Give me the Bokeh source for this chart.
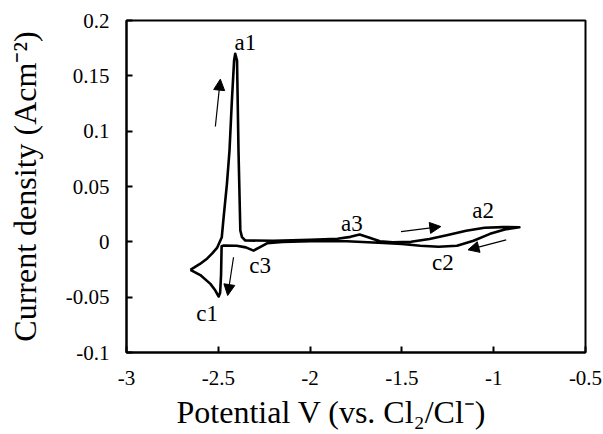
from bokeh.plotting import figure
from bokeh.models import (ColumnDataSource, FixedTicker, CustomJSTickFormatter,
                          Arrow, NormalHead, Range1d, Title)
from bokeh.core.properties import value
from bokeh.embed import file_html
from bokeh.resources import INLINE

# ---------------- data ----------------
# Cyclic voltammogram, traced in scan order starting at the left vertex
potential = [
    -2.652, -2.600, -2.560, -2.533, -2.507, -2.481, -2.471, -2.453, -2.439, -2.426,
    -2.414, -2.408, -2.398, -2.390, -2.380, -2.371, -2.353,
    -2.200, -2.000, -1.850, -1.780, -1.730, -1.680, -1.620, -1.550, -1.450,
    -1.350, -1.250, -1.150, -1.050, -0.950, -0.860,
    -0.930, -1.020, -1.110, -1.200, -1.300, -1.400, -1.500, -1.600, -1.800,
    -2.000, -2.150, -2.235, -2.270, -2.308, -2.350, -2.400, -2.470, -2.482,
    -2.485, -2.490, -2.498, -2.516, -2.543, -2.598, -2.652,
]
current = [
    -0.0253, -0.0200, -0.0150, -0.0105, -0.0055, 0.0042, 0.0222, 0.0524, 0.0825, 0.1277,
    0.1638, 0.1700, 0.1638, 0.0825, 0.0102, 0.0042, 0.0012,
    0.0010, 0.0018, 0.0028, 0.0045, 0.0066, 0.0040, 0.0005, -0.0005, 0.0000,
    0.0025, 0.0062, 0.0100, 0.0127, 0.0133, 0.0132,
    0.0115, 0.0072, 0.0010, -0.0035, -0.0045, -0.0035, -0.0020, -0.0010, 0.0005,
    0.0005, 0.0000, -0.0013, -0.0045, -0.0079, -0.0050, -0.0035, -0.0033, -0.0040,
    -0.0300, -0.0460, -0.0494, -0.0440, -0.0380, -0.0300, -0.0253,
]

x_ticks = [-3, -2.5, -2, -1.5, -1, -0.5]
y_ticks = [-0.1, -0.05, 0, 0.05, 0.1, 0.15, 0.2]

peak_labels = ["a1", "a3", "a2", "c2", "c3", "c1"]
peak_label_x = [-2.353, -1.773, -1.058, -1.277, -2.272, -2.561]
peak_label_y = [0.180, 0.0163, 0.0283, -0.0184, -0.0214, -0.0651]

# scan-direction arrows (tail -> tip)
arrow_x_start = [-2.516, -2.417, -1.505, -0.932]
arrow_y_start = [0.1042, -0.0139, 0.0093, 0.0018]
arrow_x_end = [-2.489, -2.449, -1.288, -1.140]
arrow_y_end = [0.1470, -0.0485, 0.0138, -0.0072]

x_label = "Potential V (vs. Cl\u2082/Cl\u207b)"
y_label = "Current density (Acm\u207b\u00b2)"

# ---------------- figure ----------------
FONT = "Liberation Serif"

p = figure(width=603, height=434, output_backend="svg", toolbar_location=None,
           x_range=Range1d(-3, -0.5), y_range=Range1d(-0.1, 0.2),
           min_border_left=126, min_border_right=18, min_border_top=20,
           min_border_bottom=82)
p.background_fill_color = "white"
p.border_fill_color = "white"
p.outline_line_color = "black"
p.outline_line_width = 2
p.xgrid.visible = False
p.ygrid.visible = False

fmt = CustomJSTickFormatter(code="return tick.toString();")
for ax, ticks in ((p.xaxis[0], x_ticks), (p.yaxis[0], y_ticks)):
    ax.ticker = FixedTicker(ticks=ticks)
    ax.formatter = fmt
    ax.minor_tick_line_color = None
    ax.major_tick_in = 6
    ax.major_tick_out = 0
    ax.major_tick_line_width = 2
    ax.axis_line_width = 2
    ax.major_label_text_font = FONT
    ax.major_label_text_font_size = "21px"
    ax.major_label_text_font_style = "normal"
    ax.major_label_text_color = "black"
    ax.axis_label_text_font = FONT
    ax.axis_label_text_font_style = "normal"
    ax.axis_label_text_color = "black"

p.yaxis.axis_label = y_label
p.yaxis.axis_label_text_font_size = "32px"
p.xaxis.major_label_standoff = 18
p.yaxis.major_label_standoff = 17
p.yaxis.axis_label_standoff = 20

# x-axis title (offset to the left of the frame centre, as in the reference)
p.add_layout(Title(text=x_label, align="left", offset=50, standoff=8,
                   text_font=FONT, text_font_size="32px",
                   text_font_style="normal", text_color="black"), "below")

src = ColumnDataSource(dict(x=potential, y=current))
p.line("x", "y", source=src, line_color="black", line_width=2.6,
       line_join="round")

lab = ColumnDataSource(dict(x=peak_label_x, y=peak_label_y, t=peak_labels))
p.text("x", "y", text="t", source=lab, text_font=value(FONT),
       text_font_size="23px", text_align="center", text_baseline="middle",
       text_color="black")

arr = ColumnDataSource(dict(x0=arrow_x_start, y0=arrow_y_start,
                            x1=arrow_x_end, y1=arrow_y_end))
p.add_layout(Arrow(end=NormalHead(size=11, fill_color="black", line_color="black"),
                   x_start="x0", y_start="y0", x_end="x1", y_end="y1",
                   source=arr, line_width=1.2, line_color="black"))

open("out.html", "w").write(file_html(p, INLINE))
